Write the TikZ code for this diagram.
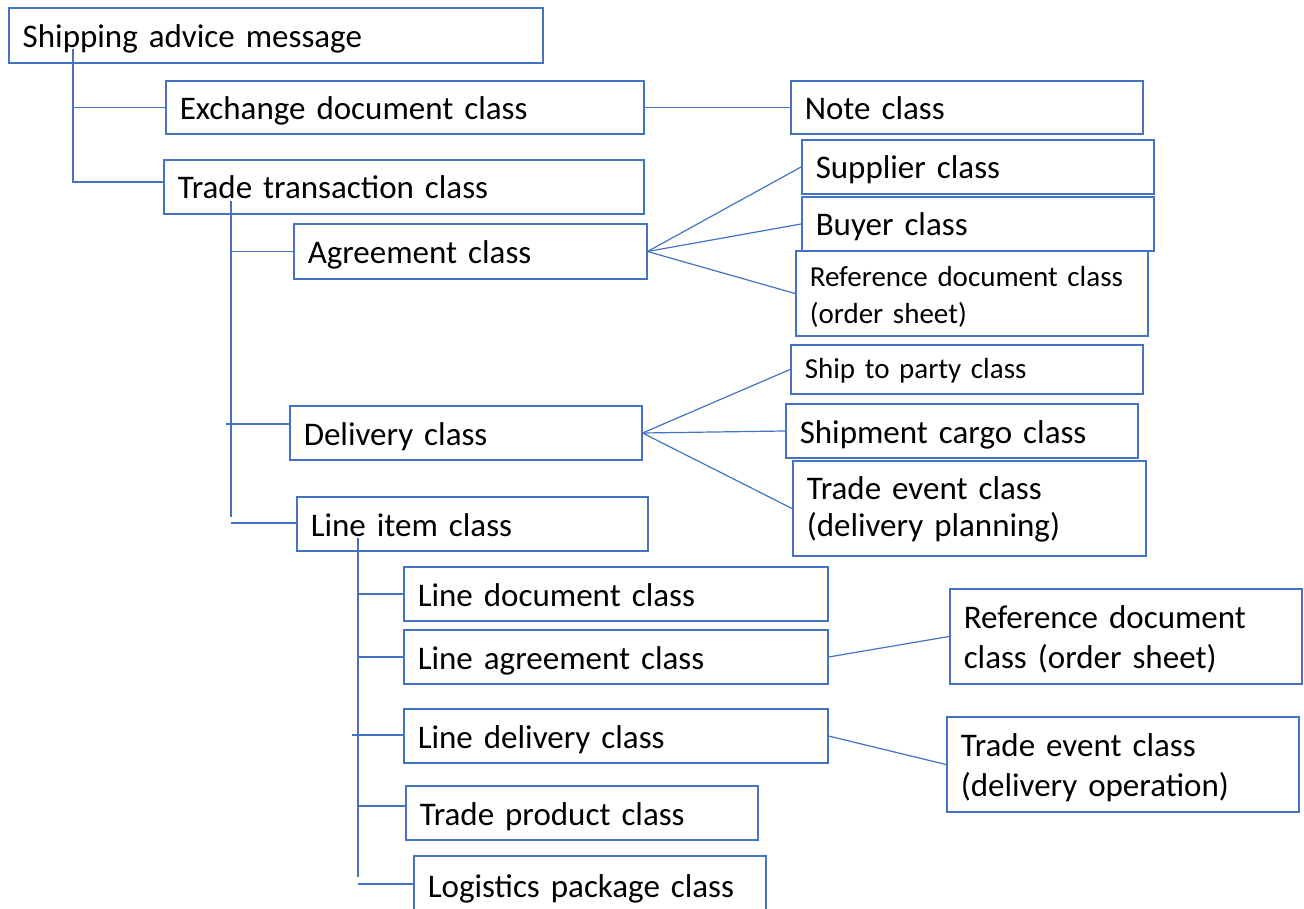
\documentclass[tikz,border=0pt]{standalone}
\usepackage{fontspec}
\setmainfont{Carlito}
\usetikzlibrary{calc}
\definecolor{bl}{RGB}{68,114,196}
\tikzset{
  box/.style={draw=bl, line width=1.5pt, rectangle, anchor=west, inner xsep=14pt, inner ysep=0pt, align=left, text=black},
  one/.style={font=\fontsize{33}{40.5}\selectfont, text height=30pt, text depth=6pt},
  onesm/.style={font=\fontsize{29}{36.7}\selectfont, text height=27pt, text depth=9pt},
  twoa/.style={font=\fontsize{33}{40.5}\selectfont, text height=31pt, text depth=47.5pt},
  twob/.style={font=\fontsize{33}{37}\selectfont, text height=26pt, text depth=44pt},
  twosm/.style={font=\fontsize{29}{36.7}\selectfont, text height=23pt, text depth=37pt},
  conn/.style={draw=bl, line width=1.2pt}
}
\newcommand{\bx}[7]{%
  \pgfmathsetmacro\tw{#4-#2-28}%
  \node[box,#6, minimum height={#5-#3}, text width=\tw pt] (#1) at (#2,{(#3+#5)/2}) {#7};}
\begin{document}
\begin{tikzpicture}[x=1pt,y=-1pt]
\useasboundingbox (0,0) rectangle (1304,909);
\clip (0,0) rectangle (1304,909);
\bx{sam}{8}{8}{542}{63}{one}{Shipping advice message}
\bx{edc}{165}{81}{643}{134}{one}{Exchange document class}
\bx{note}{790}{81}{1142}{134}{one}{Note class}
\bx{ttc}{163}{160}{643}{214}{one}{Trade transaction class}
\bx{sup}{801}{140}{1153}{194}{one}{Supplier class}
\bx{buy}{801}{197}{1153}{251}{one}{Buyer class}
\bx{ag}{293}{224}{646}{279}{one}{Agreement class}
\bx{refa}{795}{251}{1147}{336}{twosm}{Reference document class\\(order sheet)}
\bx{ship}{790}{345}{1142}{394}{onesm}{Ship to party class}
\bx{del}{289}{406}{641}{460}{one}{Delivery class}
\bx{cargo}{785}{404}{1137}{458}{one}{Shipment cargo class}
\bx{teva}{792}{461}{1145}{556}{twob}{Trade event class\\(delivery planning)}
\bx{li}{296}{497}{647}{551}{one}{Line item class}
\bx{ld}{403}{567}{827}{621}{one}{Line document class}
\bx{la}{403}{630}{827}{684}{one}{Line agreement class}
\bx{refb}{949}{589}{1301}{684}{twoa}{Reference document\\class (order sheet)}
\bx{ldl}{403}{709}{827}{763}{one}{Line delivery class}
\bx{tevb}{946}{717}{1298}{812}{twoa}{Trade event class\\(delivery operation)}
\bx{tp}{405}{786}{757}{840}{one}{Trade product class}
\bx{lp}{413}{856}{765}{914}{one}{Logistics package class}
% tree from Shipping advice message
\coordinate (j1) at (73,49);
\draw[conn] (j1) |- (edc.west);
\draw[conn] (j1) |- ($(ttc.west)+(0,-5)$);
% tree from Trade transaction class
\coordinate (j2) at (231,201);
\coordinate (j2e) at (231,517);
\coordinate (j2d) at (226,424);
\coordinate (j2l) at (231,523);
\draw[conn] (j2) -- (j2e);
\draw[conn] (j2 |- ag.west) -- (ag.west);
\draw[conn] (j2d) -- (j2d -| del.west);
\draw[conn] (j2l) -- (j2l -| li.west);
% tree from Line item class
\coordinate (j3) at (358,538);
\coordinate (j3e) at (358,877);
\coordinate (j3d) at (352,735);
\coordinate (j3t) at (358,806);
\coordinate (j3p) at (358,884);
\draw[conn] (j3) -- (j3e);
\draw[conn] (j3 |- ld.west) -- (ld.west);
\draw[conn] (j3 |- la.west) -- (la.west);
\draw[conn] (j3d) -- (j3d -| ldl.west);
\draw[conn] (j3t) -- (j3t -| tp.west);
\draw[conn] (j3p) -- (j3p -| lp.west);
% side links
\draw[conn] (edc.east) -- (note.west);
\draw[conn] (ag.east) -- (sup.west);
\draw[conn] (ag.east) -- (buy.west);
\draw[conn] (ag.east) -- (refa.west);
\draw[conn] (del.east) -- (ship.west);
\draw[conn] (del.east) -- (cargo.west);
\draw[conn] (del.east) -- (teva.west);
\draw[conn] (la.east) -- (refb.west);
\draw[conn] (ldl.east) -- (tevb.west);
\end{tikzpicture}
\end{document}
